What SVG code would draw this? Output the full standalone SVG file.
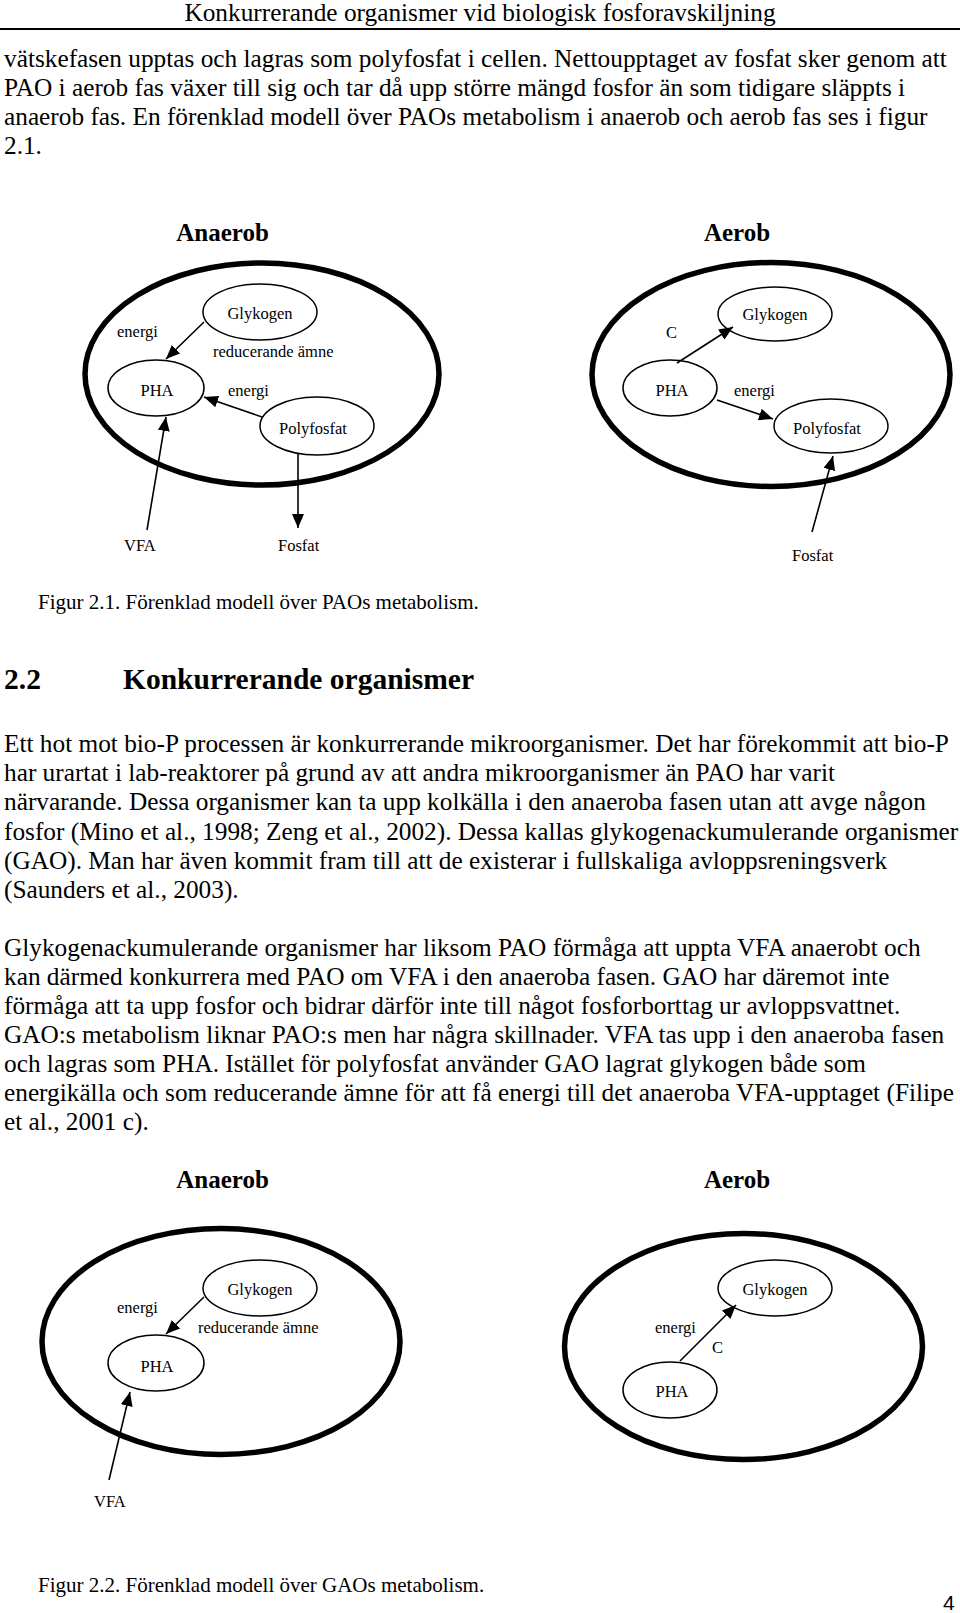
<svg xmlns="http://www.w3.org/2000/svg" width="960" height="1613" viewBox="0 0 960 1613">
<style>
.body{font-family:"Liberation Serif","Times New Roman",serif;font-size:25.3px;fill:#000}
.hdr{font-family:"Liberation Serif","Times New Roman",serif;font-size:25.3px;fill:#000}
.cap{font-family:"Liberation Serif","Times New Roman",serif;font-size:21px;fill:#000}
.ttl{font-family:"Liberation Serif","Times New Roman",serif;font-size:25px;font-weight:bold;fill:#000}
.h2{font-family:"Liberation Serif","Times New Roman",serif;font-size:29.5px;font-weight:bold;fill:#000}
.lbl{font-family:"Liberation Serif","Times New Roman",serif;font-size:16.5px;fill:#000}
.mid{text-anchor:middle}
.cell{fill:none;stroke:#000;stroke-width:5.5}
.node{fill:none;stroke:#000;stroke-width:1.5}
.edge{fill:none;stroke:#000;stroke-width:1.6;marker-end:url(#arr)}
</style>
<defs>
<marker id="arr" markerUnits="userSpaceOnUse" markerWidth="14" markerHeight="12" refX="14" refY="6" orient="auto">
<path d="M0,0 L14,6 L0,12 z" fill="#000"/>
</marker>
</defs>
<rect width="960" height="1613" fill="#fff"/>

<g id="page-text">
<text class="hdr mid" x="480" y="21">Konkurrerande organismer vid biologisk fosforavskiljning</text>
<line x1="0" y1="29" x2="960" y2="29" stroke="#000" stroke-width="2.2"/>
<text class="body" x="4" y="67">vätskefasen upptas och lagras som polyfosfat i cellen. Nettoupptaget av fosfat sker genom att</text>
<text class="body" x="4" y="96">PAO i aerob fas växer till sig och tar då upp större mängd fosfor än som tidigare släppts i</text>
<text class="body" x="4" y="125">anaerob fas. En förenklad modell över PAOs metabolism i anaerob och aerob fas ses i figur</text>
<text class="body" x="4" y="154">2.1.</text>
<text class="cap" x="38" y="609">Figur 2.1. Förenklad modell över PAOs metabolism.</text>
<text class="h2" x="4" y="689">2.2</text>
<text class="h2" x="123" y="689">Konkurrerande organismer</text>
<text class="body" x="4" y="752">Ett hot mot bio-P processen är konkurrerande mikroorganismer. Det har förekommit att bio-P</text>
<text class="body" x="4" y="781">har urartat i lab-reaktorer på grund av att andra mikroorganismer än PAO har varit</text>
<text class="body" x="4" y="810">närvarande. Dessa organismer kan ta upp kolkälla i den anaeroba fasen utan att avge någon</text>
<text class="body" x="4" y="840">fosfor (Mino et al., 1998; Zeng et al., 2002). Dessa kallas glykogenackumulerande organismer</text>
<text class="body" x="4" y="869">(GAO). Man har även kommit fram till att de existerar i fullskaliga avloppsreningsverk</text>
<text class="body" x="4" y="898">(Saunders et al., 2003).</text>
<text class="body" x="4" y="956">Glykogenackumulerande organismer har liksom PAO förmåga att uppta VFA anaerobt och</text>
<text class="body" x="4" y="985">kan därmed konkurrera med PAO om VFA i den anaeroba fasen. GAO har däremot inte</text>
<text class="body" x="4" y="1014">förmåga att ta upp fosfor och bidrar därför inte till något fosforborttag ur avloppsvattnet.</text>
<text class="body" x="4" y="1043">GAO:s metabolism liknar PAO:s men har några skillnader. VFA tas upp i den anaeroba fasen</text>
<text class="body" x="4" y="1072">och lagras som PHA. Istället för polyfosfat använder GAO lagrat glykogen både som</text>
<text class="body" x="4" y="1101">energikälla och som reducerande ämne för att få energi till det anaeroba VFA-upptaget (Filipe</text>
<text class="body" x="4" y="1130">et al., 2001 c).</text>
<text class="cap" x="38" y="1592">Figur 2.2. Förenklad modell över GAOs metabolism.</text>
<text x="943" y="1610" font-family="Liberation Sans, Arial, sans-serif" font-size="21" fill="#000">4</text>
</g>

<!-- Figure 2.1 Anaerob -->
<g id="f1-anaerob">
<text class="ttl mid" x="222.5" y="241">Anaerob</text>
<ellipse class="cell" cx="262" cy="374" rx="177" ry="111"/>
</g>
<g id="f1-an-glykogen"><ellipse class="node" cx="260" cy="312" rx="57" ry="28"/><text class="lbl mid" x="260" y="319">Glykogen</text></g>
<g id="f1-an-pha"><ellipse class="node" cx="156" cy="388" rx="48" ry="28"/><text class="lbl mid" x="157" y="396">PHA</text></g>
<g id="f1-an-polyfosfat"><ellipse class="node" cx="317" cy="426" rx="57" ry="29"/><text class="lbl mid" x="313" y="434">Polyfosfat</text></g>
<g id="f1-an-vfa"><text class="lbl" x="124" y="551">VFA</text></g>
<g id="f1-an-fosfat"><text class="lbl" x="278" y="551">Fosfat</text></g>
<g id="f1-an-labels">
<text class="lbl" x="117" y="337">energi</text>
<text class="lbl" x="213" y="357">reducerande ämne</text>
<text class="lbl" x="228" y="396">energi</text>
</g>

<!-- Figure 2.1 Aerob -->
<g id="f1-aerob">
<text class="ttl mid" x="737" y="241">Aerob</text>
<ellipse class="cell" cx="771" cy="374.5" rx="179" ry="112"/>
</g>
<g id="f1-ae-glykogen"><ellipse class="node" cx="775" cy="314" rx="57" ry="27"/><text class="lbl mid" x="775" y="320">Glykogen</text></g>
<g id="f1-ae-pha"><ellipse class="node" cx="670" cy="388" rx="47" ry="28"/><text class="lbl mid" x="672" y="396">PHA</text></g>
<g id="f1-ae-polyfosfat"><ellipse class="node" cx="831" cy="426" rx="57" ry="27"/><text class="lbl mid" x="827" y="434">Polyfosfat</text></g>
<g id="f1-ae-fosfat"><text class="lbl" x="792" y="561">Fosfat</text></g>
<g id="f1-ae-labels">
<text class="lbl" x="666" y="338">C</text>
<text class="lbl" x="734" y="396">energi</text>
</g>

<!-- Figure 2.2 Anaerob -->
<g id="f2-anaerob">
<text class="ttl mid" x="222.5" y="1188">Anaerob</text>
<ellipse class="cell" cx="221" cy="1341.5" rx="179" ry="113"/>
</g>
<g id="f2-an-glykogen"><ellipse class="node" cx="260" cy="1288" rx="57" ry="28"/><text class="lbl mid" x="260" y="1295">Glykogen</text></g>
<g id="f2-an-pha"><ellipse class="node" cx="156" cy="1363" rx="48" ry="28"/><text class="lbl mid" x="157" y="1372">PHA</text></g>
<g id="f2-an-vfa"><text class="lbl" x="94" y="1507">VFA</text></g>
<g id="f2-an-labels">
<text class="lbl" x="117" y="1313">energi</text>
<text class="lbl" x="198" y="1333">reducerande ämne</text>
</g>

<!-- Figure 2.2 Aerob -->
<g id="f2-aerob">
<text class="ttl mid" x="737" y="1188">Aerob</text>
<ellipse class="cell" cx="743.5" cy="1346.5" rx="179" ry="113"/>
</g>
<g id="f2-ae-glykogen"><ellipse class="node" cx="775" cy="1288" rx="57" ry="28"/><text class="lbl mid" x="775" y="1295">Glykogen</text></g>
<g id="f2-ae-pha"><ellipse class="node" cx="670" cy="1390" rx="47" ry="28"/><text class="lbl mid" x="672" y="1397">PHA</text></g>
<g id="f2-ae-labels">
<text class="lbl" x="655" y="1333">energi</text>
<text class="lbl" x="712" y="1353">C</text>
</g>

<g id="connectors">
<line class="edge" x1="204" y1="322" x2="166" y2="359"/>
<line class="edge" x1="262" y1="417" x2="204" y2="397"/>
<line class="edge" x1="147" y1="530" x2="166" y2="417"/>
<line class="edge" x1="298" y1="454" x2="298" y2="528"/>
<line class="edge" x1="677" y1="363" x2="733" y2="327"/>
<line class="edge" x1="717" y1="400" x2="773" y2="419"/>
<line class="edge" x1="812" y1="532" x2="833" y2="456"/>
<line class="edge" x1="204" y1="1297" x2="166" y2="1334"/>
<line class="edge" x1="109" y1="1480" x2="130" y2="1392"/>
<line class="edge" x1="680" y1="1361" x2="736" y2="1305"/>
</g>
</svg>
